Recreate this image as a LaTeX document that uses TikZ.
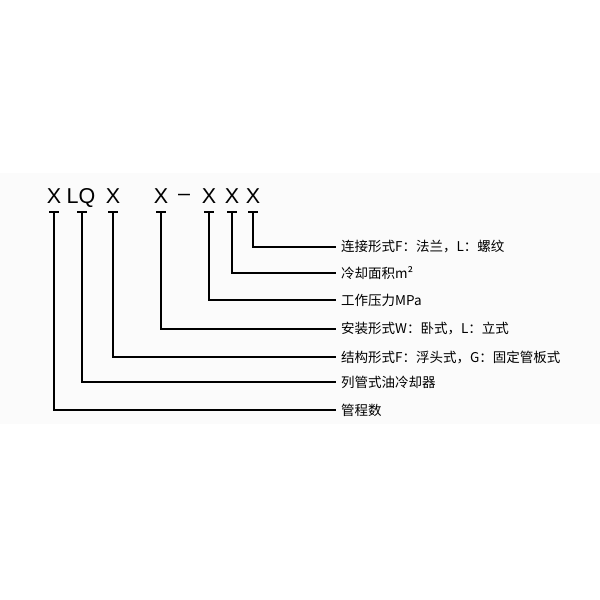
\documentclass[tikz,border=0pt]{standalone}
\usepackage{fontspec}
\newfontfamily\cjk{Noto Sans CJK SC}
\newfontfamily\lat{Liberation Sans}
\begin{document}
\begin{tikzpicture}[x=1pt,y=-1pt,
  letter/.style={font=\lat\fontsize{21.5}{23}\selectfont, inner sep=0pt, anchor=base},
  lbl/.style={font=\cjk\fontsize{13.5}{15}\selectfont, anchor=west, inner xsep=5pt, inner ysep=0pt},
  conn/.style={line width=1.8pt, line cap=butt},
  bar/.style={line width=1.8pt}]
\useasboundingbox (0,0) rectangle (600,600);
\fill[black!1.5] (0,173) rectangle (600,424);
% code letters
\node[letter] (l1) at (54,203.5) {X};
\node[letter] (l2) at (81,203.5) {LQ};
\node[letter] (l3) at (113,203.5) {X};
\node[letter] (l4) at (161,203.5) {X};
\node[letter] (dash) at (184,200) {–};
\node[letter] (l5) at (209,203.5) {X};
\node[letter] (l6) at (232,203.5) {X};
\node[letter] (l7) at (253,203.5) {X};
% labels
\node[lbl] (t7) at (336,247) {连接形式F：法兰，L：螺纹};
\node[lbl] (t6) at (336,273) {冷却面积m²};
\node[lbl] (t5) at (336,300) {工作压力MPa};
\node[lbl] (t4) at (336,329) {安装形式W：卧式，L：立式};
\node[lbl] (t3) at (336,357) {结构形式F：浮头式，G：固定管板式};
\node[lbl] (t2) at (336,382) {列管式油冷却器};
\node[lbl] (t1) at (336,410) {管程数};
% top of the brackets
\coordinate (top) at (0,212);
\coordinate (c1) at (l1 |- top);
\coordinate (c2) at (82,212);
\coordinate (c3) at (l3 |- top);
\coordinate (c4) at (l4 |- top);
\coordinate (c5) at (l5 |- top);
\coordinate (c6) at (l6 |- top);
\coordinate (c7) at (l7 |- top);
\foreach \i in {1,...,7}{
  \draw[bar] ([xshift=-5pt]c\i) -- ([xshift=5pt]c\i);
  \draw[conn] (c\i) |- (t\i.west);
}
\end{tikzpicture}
\end{document}
